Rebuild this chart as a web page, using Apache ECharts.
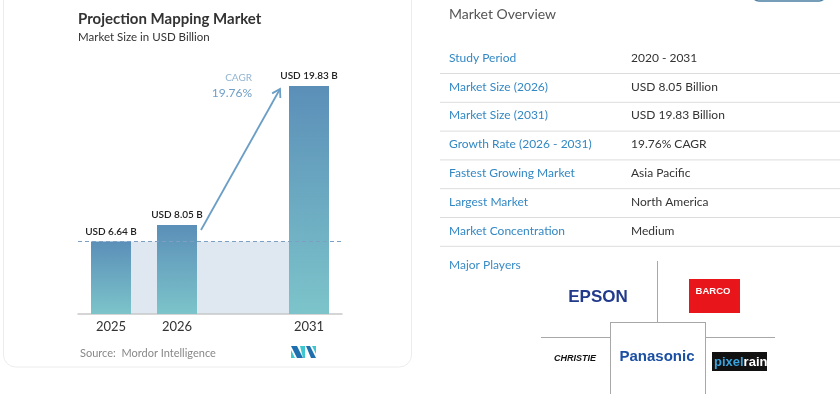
<!DOCTYPE html>
<html>
<head>
<meta charset="UTF-8">
<title>Projection Mapping Market</title>
<script src="https://cdn.jsdelivr.net/npm/echarts@6/dist/echarts.min.js"></script>
<style>
  html, body { margin: 0; padding: 0; background: #fff; }
  #main { width: 840px; height: 400px; }
</style>
</head>
<body>
<div id="main"></div>
<script type="text/javascript">
// chart data
var years = ['2025', '2026', '', '2031'];
var marketSize = [6.64, 8.05, null, 19.83];
var barLabels = ['USD 6.64 B', 'USD 8.05 B', '', 'USD 19.83 B'];
var cagrText = '19.76%';

// overview table
var overviewLabels = ['Study Period', 'Market Size (2026)', 'Market Size (2031)', 'Growth Rate (2026 - 2031)',
  'Fastest Growing Market', 'Largest Market', 'Market Concentration'];
var overviewValues = ['2020 - 2031', 'USD 8.05 Billion', 'USD 19.83 Billion', '19.76% CAGR',
  'Asia Pacific', 'North America', 'Medium'];

var FONT = 'Lato, "Noto Sans", sans-serif';
var myChart = echarts.init(document.getElementById('main'));

var option = {
  animation: false,
  textStyle: { fontFamily: FONT },
  grid: { left: 78, width: 264, top: 86, height: 228 },
  xAxis: {
    type: 'category',
    data: years,
    axisTick: { show: false },
    axisLine: { lineStyle: { color: '#c8c8c8', width: 1.5 } },
    axisLabel: { color: '#333', fontSize: 13, margin: 6, fontFamily: FONT }
  },
  yAxis: {
    type: 'value',
    min: 0.5,
    max: 'dataMax',
    show: false,
    splitLine: { show: false }
  },
  series: [{
    type: 'bar',
    data: marketSize,
    barWidth: 40,
    z: 3,
    itemStyle: {
      color: new echarts.graphic.LinearGradient(0, 0, 0, 1, [
        { offset: 0, color: '#5b8fb8' },
        { offset: 1, color: '#7cc4ca' }
      ])
    },
    label: {
      show: true,
      position: 'top',
      distance: 5,
      color: '#222',
      fontSize: 10,
      fontWeight: 600,
      fontFamily: FONT,
      formatter: function (p) { return barLabels[p.dataIndex]; }
    },
    markLine: {
      silent: true,
      symbol: 'none',
      label: { show: false },
      lineStyle: { color: '#7d9fc2', type: [4, 3], width: 1 },
      data: [{ yAxis: marketSize[0] }]
    }
  }]
};
myChart.setOption(option);

// shaded band between first and last bar, up to the 2025 level
var pBase0 = myChart.convertToPixel({ seriesIndex: 0 }, [0, 0.5]);
var p25 = myChart.convertToPixel({ seriesIndex: 0 }, [0, marketSize[0]]);
var pBase3 = myChart.convertToPixel({ seriesIndex: 0 }, [3, 0.5]);

// arrow from 2026 bar to 2031 bar
var p26 = myChart.convertToPixel({ seriesIndex: 0 }, [1, marketSize[1]]);
var p31 = myChart.convertToPixel({ seriesIndex: 0 }, [3, marketSize[3]]);
var a0 = [p26[0] + 24, p26[1] + 5];
var a1 = [p31[0] - 29, p31[1] + 3];
var dx = a1[0] - a0[0], dy = a1[1] - a0[1];
var len = Math.sqrt(dx * dx + dy * dy);
var ux = dx / len, uy = dy / len;
function rot(x, y, ang) {
  return [x * Math.cos(ang) - y * Math.sin(ang), x * Math.sin(ang) + y * Math.cos(ang)];
}
var h1 = rot(-ux, -uy, 0.55), h2 = rot(-ux, -uy, -0.55);
var arrowColor = '#6b9ec6';

var graphics = [
  // card
  { type: 'rect', z: -10, shape: { x: 3.5, y: -20, width: 408, height: 387, r: 12 },
    style: { fill: '#fff', stroke: '#ececec', lineWidth: 1 } },
  { type: 'rect', z: -5, shape: { x: pBase0[0], y: p25[1], width: pBase3[0] - pBase0[0], height: pBase0[1] - p25[1] },
    style: { fill: '#dfe8f0' } },
  { type: 'rect', shape: { x: 752, y: -13, width: 74, height: 14, r: 7 },
    style: { fill: 'none', stroke: '#4a7fa3', lineWidth: 1.5 } },
  { type: 'text', x: 78, y: 19, style: { text: 'Projection Mapping Market', fill: '#333',
    font: 'bold 15px ' + FONT, verticalAlign: 'middle' } },
  { type: 'text', x: 78, y: 37, style: { text: 'Market Size in USD Billion', fill: '#333',
    font: '11.5px ' + FONT, verticalAlign: 'middle' } },
  { type: 'text', x: 80, y: 353, style: { text: 'Source:  Mordor Intelligence', fill: '#888',
    font: '11px ' + FONT, verticalAlign: 'middle' } },
  // logo
  { type: 'polygon', shape: { points: [[291, 346], [297, 346], [303, 358], [297, 358]] }, style: { fill: '#1f6fae' } },
  { type: 'polygon', shape: { points: [[291, 350], [291, 358], [295, 358]] }, style: { fill: '#3cc6cf' } },
  { type: 'polygon', shape: { points: [[300, 346], [305, 346], [305, 358], [303, 358]] }, style: { fill: '#3cc6cf' } },
  { type: 'polygon', shape: { points: [[306, 346], [310, 346], [316, 358], [311, 358]] }, style: { fill: '#1f6fae' } },
  { type: 'polygon', shape: { points: [[312, 346], [316, 346], [316, 354]] }, style: { fill: '#3cc6cf' } },
  // arrow
  { type: 'line', z: 10, shape: { x1: a0[0], y1: a0[1], x2: a1[0], y2: a1[1] },
    style: { stroke: arrowColor, lineWidth: 1.8 } },
  { type: 'polyline', z: 10, shape: { points: [[a1[0] + h1[0] * 9, a1[1] + h1[1] * 9], a1, [a1[0] + h2[0] * 9, a1[1] + h2[1] * 9]] },
    style: { stroke: arrowColor, lineWidth: 1.8, fill: 'none' } },
  { type: 'text', z: 10, x: 252, y: 78, style: { text: 'CAGR', fill: '#92b5d2', font: '10px ' + FONT,
    align: 'right', verticalAlign: 'middle' } },
  { type: 'text', z: 10, x: 252, y: 93, style: { text: cagrText, fill: '#6e9ec7', font: '12px ' + FONT,
    align: 'right', verticalAlign: 'middle' } },
  // overview
  { type: 'text', x: 449, y: 14, style: { text: 'Market Overview', fill: '#555', font: '14px ' + FONT,
    verticalAlign: 'middle' } },
  { type: 'text', x: 449, y: 265, style: { text: 'Major Players', fill: '#3a8cc6', font: '12px ' + FONT,
    verticalAlign: 'middle' } }
];

for (var i = 0; i < overviewLabels.length; i++) {
  var cy = 58 + i * 28.8;
  graphics.push({ type: 'text', x: 449, y: cy, style: { text: overviewLabels[i], fill: '#3388c4',
    font: '12px ' + FONT, verticalAlign: 'middle' } });
  graphics.push({ type: 'text', x: 631, y: cy, style: { text: overviewValues[i], fill: '#333',
    font: '12px ' + FONT, verticalAlign: 'middle' } });
  graphics.push({ type: 'line', shape: { x1: 440, y1: cy + 15.5, x2: 840, y2: cy + 15.5 },
    style: { stroke: '#dcdcdc', lineWidth: 1 } });
}

// players grid
var gridLine = { stroke: '#a8a8a8', lineWidth: 1 };
[[657.5, 261, 657.5, 322], [541, 337.5, 610, 337.5], [705, 337.5, 775, 337.5],
 [610.5, 322, 610.5, 394], [705.5, 322, 705.5, 394], [610, 322.5, 706, 322.5]].forEach(function (l) {
  graphics.push({ type: 'line', shape: { x1: l[0], y1: l[1], x2: l[2], y2: l[3] }, style: gridLine });
});
graphics.push(
  { type: 'text', x: 598, y: 297, style: { text: 'EPSON', fill: '#213a8c',
    font: 'bold 17px "Liberation Sans", Arial, sans-serif', align: 'center', verticalAlign: 'middle' } },
  { type: 'rect', shape: { x: 689, y: 279, width: 51, height: 34 }, style: { fill: '#e8161b' } },
  { type: 'text', x: 713, y: 291, style: { text: 'BARCO', fill: '#fff',
    font: 'bold 9.5px "Liberation Sans", Arial, sans-serif', align: 'center', verticalAlign: 'middle' } },
  { type: 'text', x: 575, y: 359, style: { text: 'CHRISTIE', fill: '#111',
    font: 'italic bold 9px "Liberation Sans", Arial, sans-serif', align: 'center', verticalAlign: 'middle' } },
  { type: 'text', x: 657, y: 357, style: { text: 'Panasonic', fill: '#1b4fa3',
    font: 'bold 15px "Liberation Sans", Arial, sans-serif', align: 'center', verticalAlign: 'middle' } },
  { type: 'rect', shape: { x: 712, y: 352, width: 55, height: 19 }, style: { fill: '#111' } },
  { type: 'text', x: 714, y: 362, style: { text: '{a|pixel}{b|rain}',
    verticalAlign: 'middle',
    rich: {
      a: { fill: '#3ba3dc', font: 'bold 13px "Liberation Sans Narrow", "Liberation Sans", sans-serif' },
      b: { fill: '#fff', font: 'bold 13px "Liberation Sans Narrow", "Liberation Sans", sans-serif' }
    } } }
);

myChart.setOption({ graphic: graphics });
</script>
</body>
</html>
